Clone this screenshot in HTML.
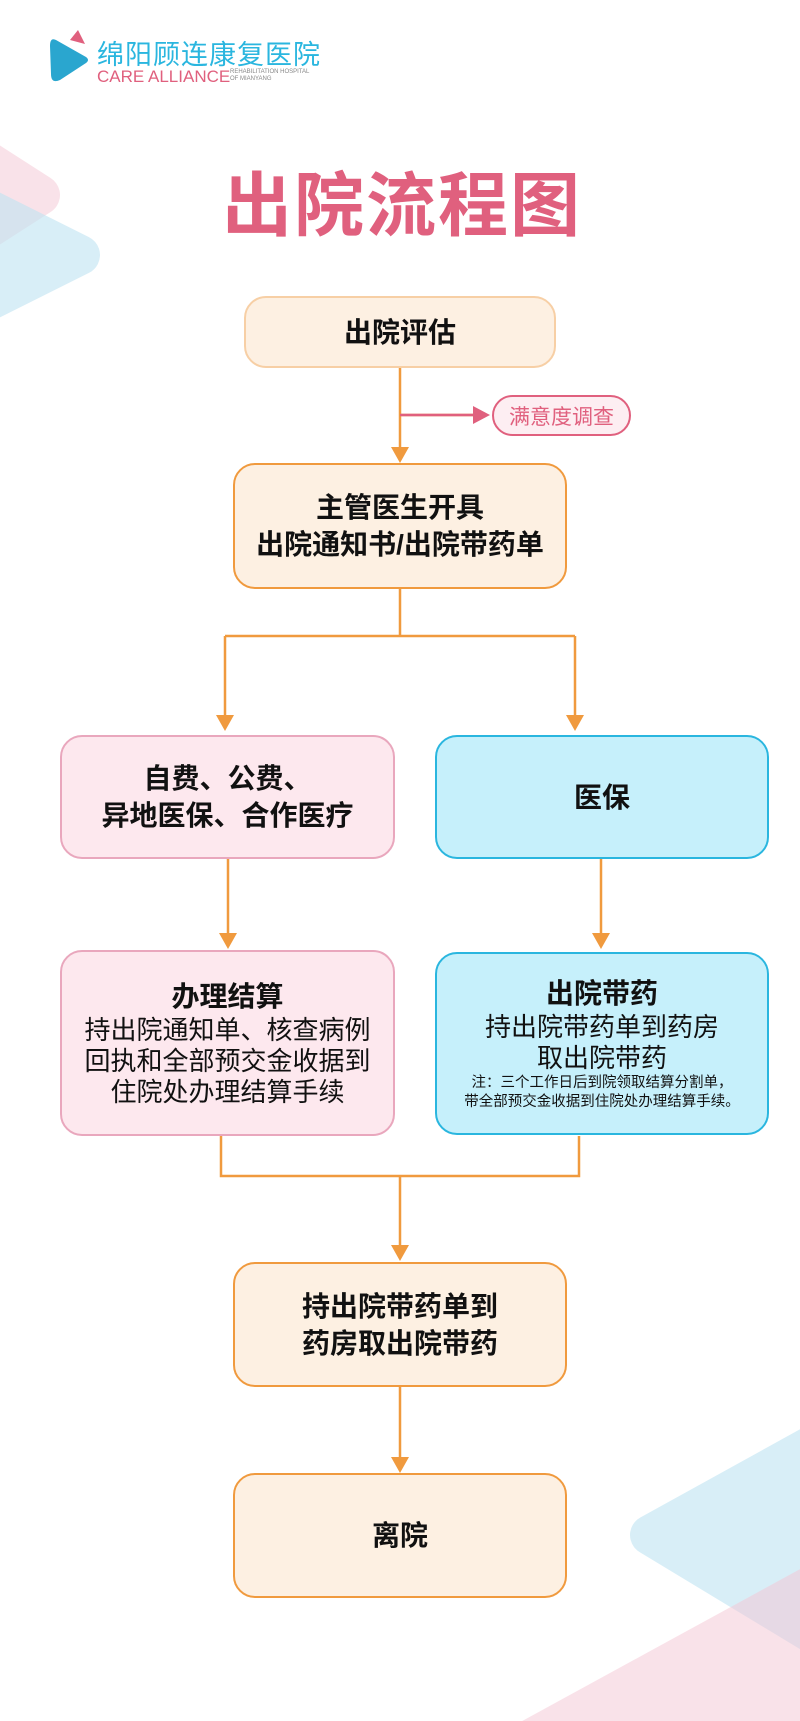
<!DOCTYPE html>
<html><head><meta charset="utf-8"><style>
body{margin:0;width:800px;height:1721px;background:#fff;position:relative;overflow:hidden;font-family:"Liberation Sans","Noto Sans CJK SC",sans-serif}
.b{position:absolute;box-sizing:border-box;border-radius:22px;display:flex;flex-direction:column;align-items:center;justify-content:center;text-align:center;color:#111}
.o{background:#fdf0e2;border:2.5px solid #f09a3e}
.p{background:#fde8ee;border:2.5px solid #e9a7bd}
.c{background:#c6f0fb;border:2.5px solid #2ab6df}
.t{font-weight:bold;font-size:28px;line-height:37px}
.n{font-size:26px;line-height:31px}
.s{font-size:14.5px;line-height:19px}
</style></head><body>
<svg width="800" height="1721" style="position:absolute;left:0;top:0">
<g stroke-linejoin="round" stroke-width="40">
<polygon points="-30,150 40,195 -30,240" fill="#f5c6d4" stroke="#f5c6d4" opacity="0.5"/>
<polygon points="-30,200 80,255 -30,310" fill="#bfe4f2" stroke="#bfe4f2" opacity="0.6"/>
<polygon points="650,1535 840,1430 840,1650" fill="#bfe4f2" stroke="#bfe4f2" opacity="0.6"/>
<polygon points="520,1745 840,1570 840,1760" fill="#f5c6d4" stroke="#f5c6d4" opacity="0.5"/>
</g>
<g stroke="#f09a3e" stroke-width="2.5" fill="none">
<path d="M400 368V450M400 415H475M400 589V636M225 636H575M225 636V718M575 636V718M228 859V934M601 859V934M221 1136V1176H579V1136M400 1176V1246M400 1387V1458"/>
</g>
<path d="M400 415H475" stroke="#e0607e" stroke-width="2.5"/>
<g fill="#f09a3e">
<polygon points="391,447 409,447 400,463"/>
<polygon points="216,715 234,715 225,731"/><polygon points="566,715 584,715 575,731"/>
<polygon points="219,933 237,933 228,949"/><polygon points="592,933 610,933 601,949"/>
<polygon points="391,1245 409,1245 400,1261"/><polygon points="391,1457 409,1457 400,1473"/>
</g>
<polygon points="473,406 490,415 473,424" fill="#e0607e"/>
<path d="M56 40 L86 57 Q90 60 86 63 L60 80 Q51 84 51 74 L50 46 Q50 37 56 40Z" fill="#2aa6cf"/>
<path d="M70 40 L78 30 L85 44Z" fill="#e0607e"/>
</svg>
<div style="position:absolute;left:97px;top:33px;font-size:27px;color:#2ab6df;letter-spacing:1px">绵阳顾连康复医院</div>
<div style="position:absolute;left:97px;top:68px;font-size:17px;line-height:18px;color:#e0607e">CARE ALLIANCE</div>
<div style="position:absolute;left:230px;top:69px;font-size:6px;line-height:7px;color:#888">REHABILITATION HOSPITAL<br>OF MIANYANG</div>
<div style="position:absolute;left:222px;top:150px;font-size:70px;font-weight:bold;color:#e0607e;letter-spacing:2px">出院流程图</div>
<div class="b t" style="left:244px;top:296px;width:312px;height:72px;background:#fdf0e2;border:2.5px solid #f7cfa5">出院评估</div>
<div class="b" style="left:492px;top:395px;width:139px;height:41px;border-radius:21px;background:#fdeef2;border:2.5px solid #e0607e;color:#e0607e;font-size:21px">满意度调查</div>
<div class="b o t" style="left:233px;top:463px;width:334px;height:126px">主管医生开具<br>出院通知书/出院带药单</div>
<div class="b p t" style="left:60px;top:735px;width:335px;height:124px">自费、公费、<br>异地医保、合作医疗</div>
<div class="b c t" style="left:435px;top:735px;width:334px;height:124px">医保</div>
<div class="b p" style="left:60px;top:950px;width:335px;height:186px"><div class="t">办理结算</div><div class="n">持出院通知单、核查病例<br>回执和全部预交金收据到<br>住院处办理结算手续</div></div>
<div class="b c" style="left:435px;top:952px;width:334px;height:183px"><div class="t">出院带药</div><div class="n">持出院带药单到药房<br>取出院带药</div><div class="s">注：三个工作日后到院领取结算分割单，<br>带全部预交金收据到住院处办理结算手续。</div></div>
<div class="b o t" style="left:233px;top:1262px;width:334px;height:125px">持出院带药单到<br>药房取出院带药</div>
<div class="b o t" style="left:233px;top:1473px;width:334px;height:125px">离院</div>
</body></html>
